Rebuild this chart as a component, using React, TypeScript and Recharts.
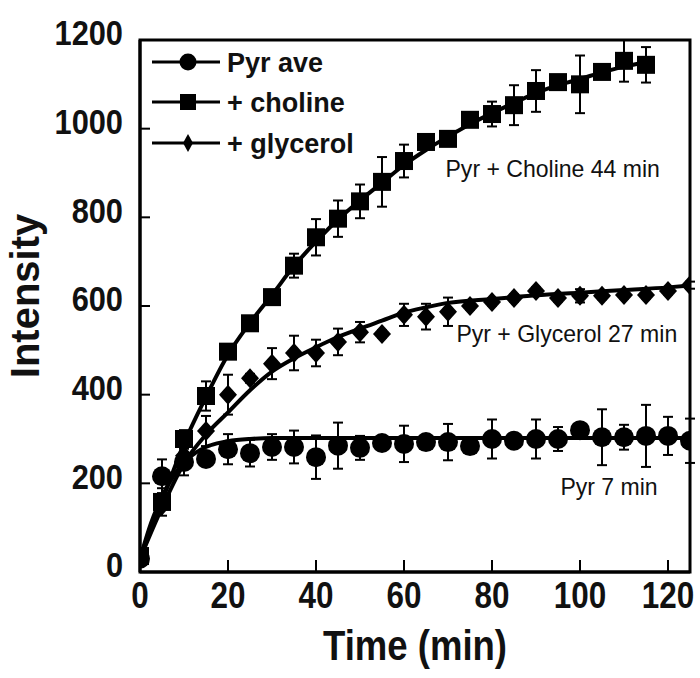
import React from 'react';
import {
  ComposedChart, Line, Scatter, XAxis, YAxis, ErrorBar, ReferenceArea, ReferenceDot,
} from 'recharts';

// measured time points (min)
const times = [0, 5, 10, 15, 20, 25, 30, 35, 40, 45, 50, 55, 60, 65, 70, 75, 80, 85, 90, 95, 100, 105, 110, 115, 120, 125];
const cholineTimes = [0, 5, 10, 15, 20, 25, 30, 35, 40, 45, 50, 55, 60, 65, 70, 75, 80, 85, 90, 95, 100, 105, 110, 115];

// Pyr ave
const pyrAve = [30, 216, 248, 255, 277, 268, 282, 282, 259, 285, 280, 291, 289, 293, 293, 284, 300, 296, 300, 300, 320, 304, 304, 307, 307, 296];
const pyrErr = [0, 38, 30, 10, 34, 30, 29, 37, 49, 52, 27, 8, 41, 8, 41, 8, 44, 8, 44, 27, 0, 63, 28, 70, 43, 50];

// + choline
const choline = [36, 158, 300, 397, 497, 561, 620, 691, 755, 797, 836, 880, 927, 970, 977, 1020, 1033, 1053, 1085, 1105, 1100, 1128, 1153, 1144];
const cholineErr = [0, 31, 20, 33, 10, 10, 10, 27, 41, 41, 38, 56, 37, 8, 8, 8, 28, 45, 47, 10, 65, 8, 47, 40];

// + glycerol
const glycerol = [30, 150, 262, 318, 400, 437, 470, 494, 494, 519, 541, 537, 580, 576, 587, 600, 609, 618, 634, 618, 623, 623, 625, 625, 634, 647];
const glycerolErr = [0, 0, 0, 34, 45, 10, 35, 39, 30, 30, 23, 8, 25, 29, 32, 8, 8, 8, 8, 8, 15, 8, 8, 8, 8, 8];

// fitted curves
const pyrFitTime = [0, 2.5, 5, 7.5, 10, 12.5, 15, 17.5, 20, 25, 30, 40, 60, 80, 100, 125];
const pyrFit = [30, 110, 170, 215, 248, 268, 282, 290, 295, 300, 302, 302, 302, 302, 302, 302];
const cholineFitTime = [0, 5, 10, 15, 20, 25, 30, 35, 40, 45, 50, 55, 60, 65, 70, 75, 80, 85, 90, 95, 100, 105, 110, 115];
const cholineFit = [30, 160, 290, 395, 490, 562, 625, 690, 745, 795, 838, 878, 918, 952, 982, 1010, 1035, 1058, 1080, 1098, 1112, 1127, 1140, 1150];
const glycerolFitTime = [0, 5, 10, 15, 20, 25, 30, 35, 40, 45, 50, 55, 60, 65, 70, 80, 90, 100, 110, 120, 125];
const glycerolFit = [30, 145, 245, 310, 360, 410, 452, 482, 507, 530, 549, 567, 585, 597, 607, 616, 624, 630, 636, 642, 646];

const xTicks = [0, 20, 40, 60, 80, 100, 120];
const yTicks = [0, 200, 400, 600, 800, 1000, 1200];

const FONT = '"Liberation Sans", Arial, sans-serif';

const toPoints = (t: number[], v: number[], e?: number[]) =>
  t.map((time, i) => ({ t: time, v: v[i], e: e ? e[i] : 0 }));

const pyrData = toPoints(times, pyrAve, pyrErr);
const cholineData = toPoints(cholineTimes, choline, cholineErr);
const glycerolData = toPoints(times, glycerol, glycerolErr);

const CircleMark = (p: any) => <circle cx={p.cx} cy={p.cy} r={10} fill="#000" />;
const SquareMark = (p: any) => <rect x={p.cx - 9} y={p.cy - 9} width={18} height={18} fill="#000" />;
const DiamondMark = (p: any) => (
  <polygon points={`${p.cx},${p.cy - 10} ${p.cx + 9},${p.cy} ${p.cx},${p.cy + 10} ${p.cx - 9},${p.cy}`} fill="#000" />
);

const XTick = ({ x, y, payload }: any) => (
  <text transform={`translate(${x},${y}) scale(0.85,1)`} textAnchor="middle" dy="0.71em"
    fontSize={37} fontWeight="bold" fontFamily={FONT} fill="#111">{payload.value}</text>
);

const YTick = ({ x, y, payload }: any) => (
  <text transform={`translate(${x},${y - 7}) scale(0.88,1)`} textAnchor="end" dy="0.355em"
    fontSize={35} fontWeight="bold" fontFamily={FONT} fill="#111">{payload.value}</text>
);

const annot = (text: string) => (props: any) => {
  const vb = props.viewBox || props;
  const cx = vb.x + (vb.width || 0) / 2;
  const cy = vb.y + (vb.height || 0) / 2;
  return (
    <text transform={`translate(${cx},${cy}) scale(0.96,1)`} textAnchor="middle" dy="0.35em"
      fontSize={24} fontFamily={FONT} fill="#111">{text}</text>
  );
};

const legendRows = [
  { name: 'Pyr ave', mark: 'circle' },
  { name: '+ choline', mark: 'square' },
  { name: '+ glycerol', mark: 'diamond' },
];

function LegendBox() {
  const rowY = [62, 102, 143];
  return (
    <svg width={700} height={678} style={{ position: 'absolute', left: 0, top: 0, pointerEvents: 'none' }}>
      {legendRows.map((r, i) => {
        const y = rowY[i];
        return (
          <g key={r.name}>
            <line x1={152} x2={220} y1={y} y2={y} stroke="#000" strokeWidth={3} />
            {r.mark === 'circle' && <circle cx={188} cy={y} r={8.5} fill="#000" />}
            {r.mark === 'square' && <rect x={180} y={y - 8} width={16} height={16} fill="#000" />}
            {r.mark === 'diamond' && <polygon points={`188,${y - 9} 193,${y} 188,${y + 9} 183,${y}`} fill="#000" />}
            <text x={227} y={y} dy="0.36em" fontSize={27} fontWeight="bold" fontFamily={FONT} fill="#111">{r.name}</text>
          </g>
        );
      })}
    </svg>
  );
}

export default function App() {
  return (
    <div style={{ position: 'absolute', left: 0, top: 0, width: 700, height: 678, background: '#fff' }}>
      <ComposedChart width={700} height={678} margin={{ top: 40, right: 10, bottom: 0, left: 0 }}>
        <XAxis
          dataKey="t" type="number" domain={[0, 125]} ticks={xTicks} allowDataOverflow
          height={106} tickSize={-12} tickMargin={22} tick={<XTick />}
          axisLine={{ stroke: '#000', strokeWidth: 3 }} tickLine={{ stroke: '#000', strokeWidth: 2 }}
          label={(props: any) => {
            const vb = props.viewBox;
            return (
              <text transform={`translate(${vb.x + vb.width / 2},${vb.y + 88}) scale(0.87,1)`} textAnchor="middle"
                fontSize={42} fontWeight="bold" fontFamily={FONT} fill="#111">Time (min)</text>
            );
          }}
        />
        <YAxis
          type="number" domain={[0, 1200]} ticks={yTicks} allowDataOverflow
          width={140} tickSize={-10} tickMargin={27} tick={<YTick />}
          axisLine={{ stroke: '#000', strokeWidth: 3 }} tickLine={{ stroke: '#000', strokeWidth: 2 }}
          label={(props: any) => {
            const vb = props.viewBox;
            return (
              <text transform={`translate(39,${vb.y + vb.height / 2 - 10}) rotate(-90)`} textAnchor="middle"
                fontSize={40} fontWeight="bold" fontFamily={FONT} fill="#111">Intensity</text>
            );
          }}
        />
        <ReferenceArea x1={0} x2={125} y1={0} y2={1200} fill="none" stroke="#000" strokeWidth={3} />

        <Line data={toPoints(pyrFitTime, pyrFit)} dataKey="v" type="monotone" stroke="#000" strokeWidth={4}
          dot={false} isAnimationActive={false} legendType="none" />
        <Line data={toPoints(cholineFitTime, cholineFit)} dataKey="v" type="monotone" stroke="#000" strokeWidth={4}
          dot={false} isAnimationActive={false} legendType="none" />
        <Line data={toPoints(glycerolFitTime, glycerolFit)} dataKey="v" type="monotone" stroke="#000" strokeWidth={4}
          dot={false} isAnimationActive={false} legendType="none" />

        <Scatter name="Pyr ave" data={pyrData} dataKey="v" shape={CircleMark} isAnimationActive={false}>
          <ErrorBar dataKey="e" direction="y" width={5} stroke="#000" strokeWidth={2} />
        </Scatter>
        <Scatter name="+ choline" data={cholineData} dataKey="v" shape={SquareMark} isAnimationActive={false}>
          <ErrorBar dataKey="e" direction="y" width={5} stroke="#000" strokeWidth={2} />
        </Scatter>
        <Scatter name="+ glycerol" data={glycerolData} dataKey="v" shape={DiamondMark} isAnimationActive={false}>
          <ErrorBar dataKey="e" direction="y" width={5} stroke="#000" strokeWidth={2} />
        </Scatter>

        <ReferenceDot x={93.8} y={911} r={0} stroke="none" label={annot('Pyr + Choline 44 min')} />
        <ReferenceDot x={97} y={537} r={0} stroke="none" label={annot('Pyr + Glycerol 27 min')} />
        <ReferenceDot x={106.6} y={192} r={0} stroke="none" label={annot('Pyr 7 min')} />
      </ComposedChart>
      <LegendBox />
    </div>
  );
}
